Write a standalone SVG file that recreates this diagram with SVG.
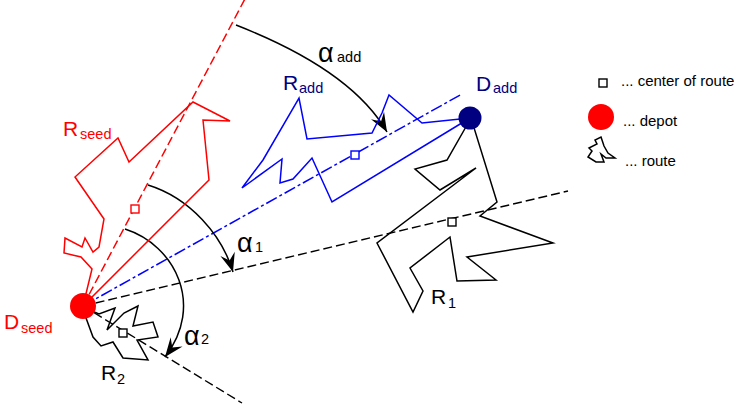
<svg xmlns="http://www.w3.org/2000/svg" width="734" height="404" viewBox="0 0 734 404">
<defs>
<marker id="arr" markerUnits="userSpaceOnUse" viewBox="-21 -8 22 16" refX="0" refY="0" markerWidth="22" markerHeight="16" orient="auto">
<path d="M0,0 L-19,-7.5 L-12,0 L-19,7.5 Z" fill="#000"/>
</marker>
</defs>
<style>
text{font-family:"Liberation Sans",Arial,sans-serif}
.big{font-size:21px}
.sub{font-size:14.5px}
.al{font-size:27px}
.leg{font-size:15px}
.route{fill:none;stroke-width:1.5;stroke-linejoin:miter}
.ctr{fill:#fff;stroke-width:1.4}
.arc{fill:none;stroke:#000;stroke-width:1.5}
</style>
<rect width="734" height="404" fill="#fff"/>

<g id="connectors">
<line x1="83" y1="306" x2="247" y2="-5" stroke="#ff0000" stroke-width="1.5" stroke-dasharray="9,4"/>
<line x1="83" y1="306" x2="462" y2="94" stroke="#0000ff" stroke-width="1.5" stroke-dasharray="12,3,3,3"/>
<line x1="83" y1="306" x2="568" y2="191" stroke="#000" stroke-width="1.4" stroke-dasharray="9,4"/>
<line x1="83" y1="306" x2="242" y2="403" stroke="#000" stroke-width="1.4" stroke-dasharray="9,4"/>
<path class="arc" d="M236,25 C300,50 360,85 387,132" marker-end="url(#arr)"/>
<path class="arc" d="M148,185 C190,198 222,235 233,272" marker-end="url(#arr)"/>
<path class="arc" d="M125,229 C175,245 205,305 165,357" marker-end="url(#arr)"/>
</g>

<g id="route-seed">
<polygon class="route" stroke="#ff0000" points="83,306 92,269 81,257 64,253 65,238 82,247 85,238 93,252 99,247 104,219 75,177 118,138 129,162 193,102 230,121 203,120 209,180"/>
<rect class="ctr" stroke="#ff0000" x="131" y="205" width="8" height="8"/>
<text class="big" x="63" y="136" fill="#ff0000">R<tspan class="sub" x="80" y="139">seed</tspan></text>
</g>

<g id="route-add">
<polygon class="route" stroke="#0000ff" points="470,118 422,123 389,95 382,113 372,133 307,139 299,98 263,160 242,188 282,159 280,183 293,179 312,158 332,202"/>
<rect class="ctr" stroke="#0000ff" x="351" y="151" width="8" height="8"/>
<text class="big" x="283" y="90" fill="#000080">R<tspan class="sub" x="299" y="93">add</tspan></text>
</g>

<g id="route-1">
<polygon class="route" stroke="#000" points="471,118 447,160 415,169 440,190 476,168 377,243 413,312 423,291 410,268 450,237 457,281 496,280 467,257 553,243 480,216 497,202"/>
<rect class="ctr" stroke="#000" x="448" y="218" width="8" height="8"/>
<text class="big" x="431" y="304" fill="#000">R<tspan class="sub" x="448" y="308">1</tspan></text>
</g>

<g id="route-2">
<polygon class="route" stroke="#000" points="82,307 93,337 101,346 113,342 123,358 148,360 137,340 158,337 153,322 133,326 138,306 124,313 107,330 115,308 99,314"/>
<rect class="ctr" stroke="#000" x="119" y="329" width="8" height="8"/>
<text class="big" x="101" y="380" fill="#000">R<tspan class="sub" x="117" y="384">2</tspan></text>
</g>

<g id="depot-seed">
<circle cx="83" cy="306" r="13" fill="#ff0000"/>
<text class="big" x="4" y="329" fill="#ff0000">D<tspan class="sub" x="21" y="333">seed</tspan></text>
</g>

<g id="depot-add">
<circle cx="470" cy="118" r="11.5" fill="#000080"/>
<text class="big" x="476" y="91" fill="#000080">D<tspan class="sub" x="493" y="93">add</tspan></text>
</g>

<g id="angle-labels">
<text class="al" x="318" y="62">α<tspan class="sub" x="337" y="62">add</tspan></text>
<text class="al" x="237" y="252">α<tspan class="sub" x="255" y="252">1</tspan></text>
<text class="al" x="184" y="345">α<tspan class="sub" x="201" y="344">2</tspan></text>
</g>

<g id="legend">
<rect class="ctr" stroke="#000" x="599" y="79" width="8" height="8"/>
<text class="leg" x="621" y="86">... center of route</text>
<circle cx="601" cy="117" r="13" fill="#ff0000"/>
<text class="leg" x="623" y="126">... depot</text>
<polygon class="route" stroke="#000" stroke-width="1" points="601,137 604,146 608,153 615,158 606,158 601,154 604,162 596,162 588,157 592,151 589,148 597,144 595,140"/>
<text class="leg" x="625" y="166">... route</text>
</g>
</svg>
